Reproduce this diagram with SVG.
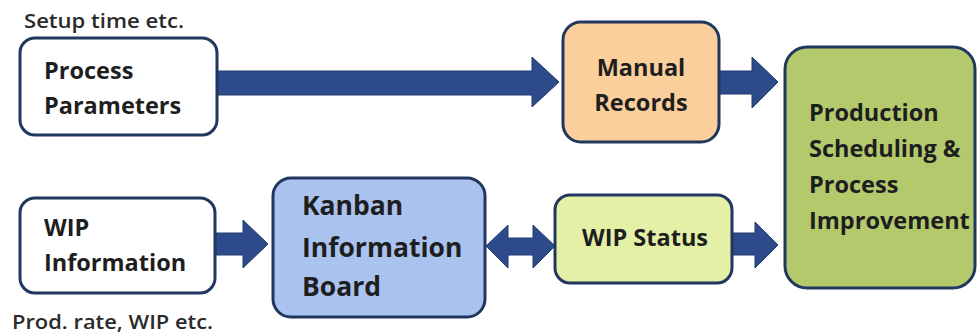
<svg xmlns="http://www.w3.org/2000/svg" width="977" height="335" viewBox="0 0 977 335">
  <style>
    .box { stroke: #22375f; stroke-width: 3; }
    .lbl { font-family: "Open Sans", "Noto Sans", sans-serif; font-weight: 700; fill: #1e1e1e; font-size: 23.5px; }
    .big { font-size: 26.5px; }
    .note { font-family: "Open Sans", "Noto Sans", sans-serif; font-weight: 600; fill: #2a2a2a; font-size: 20px; }
    .arrow { fill: #2d4a8a; stroke: #223a6e; stroke-width: 1; }
  </style>
  <rect width="977" height="335" fill="#ffffff"/>

  <!-- connectors -->
  <g id="connectors">
    <!-- Process Parameters -> Manual Records -->
    <polygon class="arrow" points="217,71 532,71 532,57 559,82 532,107 532,95 217,95"/>
    <!-- Manual Records -> Production Scheduling -->
    <polygon class="arrow" points="719,71 752,71 752,57 778,82 752,108 752,94 719,94"/>
    <!-- WIP Information -> Kanban Board -->
    <polygon class="arrow" points="215,233 243,233 243,220 268,244 243,268 243,255 215,255"/>
    <!-- Kanban Board <-> WIP Status -->
    <polygon class="arrow" points="486,246 508,225 508,238 533,238 533,225 555,246 533,268 533,255 508,255 508,268"/>
    <!-- WIP Status -> Production Scheduling -->
    <polygon class="arrow" points="732,233 755,233 755,222 778,245 755,268 755,255 732,255"/>
  </g>

  <g id="process-parameters">
    <text class="note" x="24" y="28" textLength="160" lengthAdjust="spacingAndGlyphs">Setup time etc.</text>
    <rect class="box" x="20" y="38" width="197" height="97" rx="15" fill="#ffffff"/>
    <text class="lbl" x="44" y="79">Process</text>
    <text class="lbl" x="44" y="114">Parameters</text>
  </g>

  <g id="manual-records">
    <rect class="box" x="563" y="22" width="156" height="120" rx="18" fill="#fbcf9c"/>
    <text class="lbl" x="641" y="76" text-anchor="middle">Manual</text>
    <text class="lbl" x="641" y="111" text-anchor="middle">Records</text>
  </g>

  <g id="production-scheduling">
    <rect class="box" x="785" y="47" width="190" height="241" rx="22" fill="#b4c86c"/>
    <text class="lbl" x="809" y="121">Production</text>
    <text class="lbl" x="809" y="157">Scheduling &amp;</text>
    <text class="lbl" x="809" y="193">Process</text>
    <text class="lbl" x="809" y="229">Improvement</text>
  </g>

  <g id="wip-information">
    <rect class="box" x="20" y="198" width="195" height="95" rx="15" fill="#ffffff"/>
    <text class="lbl" x="44" y="236">WIP</text>
    <text class="lbl" x="44" y="271">Information</text>
    <text class="note" x="12" y="329" textLength="201" lengthAdjust="spacingAndGlyphs">Prod. rate, WIP etc.</text>
  </g>

  <g id="kanban-board">
    <rect class="box" x="273" y="178" width="212" height="139" rx="18" fill="#a9c3ee"/>
    <text class="lbl big" x="302" y="215">Kanban</text>
    <text class="lbl big" x="302" y="257">Information</text>
    <text class="lbl big" x="302" y="296">Board</text>
  </g>

  <g id="wip-status">
    <rect class="box" x="555" y="195" width="177" height="88" rx="15" fill="#e3f0a6"/>
    <text class="lbl" x="645" y="246" text-anchor="middle">WIP Status</text>
  </g>
</svg>
